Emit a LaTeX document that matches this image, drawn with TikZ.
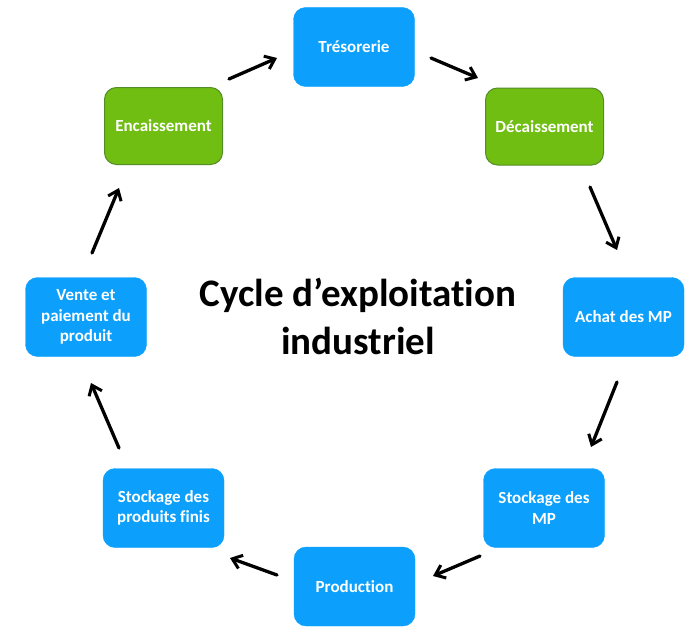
\documentclass[tikz,border=0pt]{standalone}
\usepackage{fontspec}
\setmainfont{Carlito}[Ligatures=NoCommon]
\usetikzlibrary{arrows.meta}
\definecolor{boxblue}{RGB}{12,160,252}
\definecolor{boxgreen}{RGB}{112,190,18}
\definecolor{greenedge}{RGB}{84,140,40}
\tikzset{
  bluebox/.style={fill=boxblue, draw=boxblue, rounded corners=12pt, minimum width=121pt, minimum height=79pt, text=white, font=\bfseries\fontsize{17}{20.5}\selectfont, align=center, inner sep=0pt},
  greenbox/.style={bluebox, fill=boxgreen, draw=greenedge, line width=1pt, minimum width=118pt, minimum height=77pt},
  flow/.style={line width=3.3pt, black, line cap=round, -{Straight Barb[length=9pt,width=14pt,line width=3pt]}},
}
\begin{document}
\begin{tikzpicture}[x=1pt,y=-1pt]
\useasboundingbox (0,0) rectangle (692,626);
\node[bluebox] (tres) at (354,47) {Trésorerie};
\node[greenbox] (dec) at (544.5,126.5) {Décaissement};
\node[bluebox] (achat) at (623.5,317) {Achat des MP};
\node[bluebox] (smp) at (544,508) {Stockage des\\MP};
\node[bluebox] (prod) at (354.5,586.5) {Production};
\node[bluebox] (spf) at (163.5,508) {Stockage des\\produits finis};
\node[bluebox] (vente) at (86,317) {Vente et\\paiement du\\produit};
\node[greenbox] (enc) at (163.5,126) {Encaissement};
\node[font=\bfseries\fontsize{39}{48}\selectfont, align=center] (title) at (358,316) {Cycle d’exploitation\\industriel};
\coordinate (a1s) at (229,79); \coordinate (a1e) at (277,58);
\coordinate (a2s) at (431,58); \coordinate (a2e) at (478,78);
\coordinate (a3s) at (590,187); \coordinate (a3e) at (617,250);
\coordinate (a4s) at (617,382); \coordinate (a4e) at (591,447);
\coordinate (a5s) at (480,556); \coordinate (a5e) at (433,576);
\coordinate (a6s) at (277,575); \coordinate (a6e) at (230,558);
\coordinate (a7s) at (119,448); \coordinate (a7e) at (91,383);
\coordinate (a8s) at (92,253); \coordinate (a8e) at (119,188);
\draw[flow] (a1s) -- (a1e);
\draw[flow] (a2s) -- (a2e);
\draw[flow] (a3s) -- (a3e);
\draw[flow] (a4s) -- (a4e);
\draw[flow] (a5s) -- (a5e);
\draw[flow] (a6s) -- (a6e);
\draw[flow] (a7s) -- (a7e);
\draw[flow] (a8s) -- (a8e);
\end{tikzpicture}
\end{document}
